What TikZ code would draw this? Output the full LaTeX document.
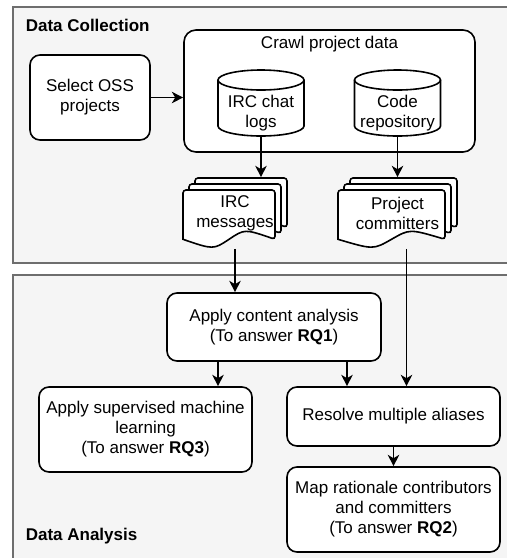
\documentclass[tikz,border=0pt]{standalone}
\usepackage{fontspec}
\setmainfont{Liberation Sans}
\usetikzlibrary{arrows.meta}
\definecolor{cpanel}{HTML}{F5F5F5}
\definecolor{cframe}{HTML}{6E6E6E}
\tikzset{
  every picture/.style={x=0.75pt, y=-0.75pt, font=\fontsize{12.75}{15}\selectfont, line width=1.2pt},
  panel/.style={draw=cframe, fill=cpanel, line width=1.3pt},
  panelname/.style={font=\fontsize{12.75}{15}\selectfont\bfseries, anchor=west, inner sep=0pt},
  box/.style={draw, fill=white, rounded corners=7.5pt, align=center, inner sep=2pt},
  page/.style={draw, fill=white},
  stack/.style={align=center, inner sep=0pt},
  arrow/.style={-{Stealth[length=8.5pt, width=8.5pt, inset=2.5pt]}, line width=1.2pt},
}
% stack of three pages: name, left, top, width, height, text (all in px)
\newcommand{\docstack}[6]{%
  \foreach \s in {12,6,0}{
    \draw[page] ({#2+\s},{#3+12-\s+0.85*(#5-12)})
      [rounded corners=2.25pt] -- ({#2+\s},{#3+12-\s}) -- ({#2+\s+#4-12},{#3+12-\s})
      -- ({#2+\s+#4-12},{#3+12-\s+0.85*(#5-12)}) [sharp corners]
      .. controls ({#2+\s+0.67*(#4-12)},{#3+12-\s+0.67*(#5-12)}) .. ({#2+\s+0.5*(#4-12)},{#3+12-\s+0.85*(#5-12)})
      .. controls ({#2+\s+0.33*(#4-12)},{#3+12-\s+1.03*(#5-12)}) .. ({#2+\s},{#3+12-\s+0.85*(#5-12)}) -- cycle;
  }
  \node[stack, minimum width={#4*0.75pt}, minimum height={#5*0.75pt}] (#1) at ({#2+#4/2},{#3+#5/2}) {#6};
}
% cylinder: name, centre x, top, width, height, text (all in px); the node is its body under the lid
\newcommand{\datastore}[6]{%
  \draw[page] ({#2-#4/2},{#3+10}) -- ({#2-#4/2},{#3+#5-10})
    arc[start angle=180, end angle=360, x radius={#4*0.375pt}, y radius=7.5pt]
    -- ({#2+#4/2},{#3+10})
    arc[start angle=0, end angle=180, x radius={#4*0.375pt}, y radius=7.5pt] -- cycle;
  \draw ({#2-#4/2},{#3+10}) arc[start angle=180, end angle=360, x radius={#4*0.375pt}, y radius=7.5pt];
  \node[stack, minimum width={#4*0.75pt}, minimum height={(#5-20)*0.75pt}] (#1) at (#2,{#3+20+(#5-20)/2}) {#6};
}

\begin{document}
\begin{tikzpicture}
  \useasboundingbox (0,0) rectangle (507,558);
  % the two phases
  \draw[panel] (13,7) rectangle (540,263);
  \draw[panel] (13,275) rectangle (540,590);
  \node[panelname] (collect) at (25,25) {Data Collection};
  \node[panelname] (analyse) at (25,536) {Data Analysis};

  % data collection
  \node[box, minimum width=90pt, minimum height=63.75pt] (select) at (90,97.5) {Select OSS\\projects};
  \node[box, rounded corners=9pt, minimum width=218.25pt, minimum height=91.5pt,
        label={[anchor=center, yshift=-11.25pt]north:Crawl project data}] (crawl) at (329.5,91) {};
  \datastore{irclogs}{261}{70}{86}{66}{IRC chat\\logs}
  \datastore{coderepo}{397.5}{70}{86}{66}{Code\\repository}
  \docstack{ircmsg}{183}{178}{104}{70}{IRC\\messages}
  \docstack{commit}{338}{178}{119}{70}{Project\\committers}

  % data analysis
  \node[box, minimum width=160.5pt, minimum height=51pt] (content) at (274,327) {Apply content analysis\\(To answer \textbf{RQ1})};
  \node[box, minimum width=159.75pt, minimum height=63.75pt] (learn) at (145.5,429.5) {Apply supervised machine\\learning\\(To answer \textbf{RQ3})};
  \node[box, minimum width=159.75pt, minimum height=44.25pt] (alias) at (393.5,416.5) {Resolve multiple aliases};
  \node[box, minimum width=159.75pt, minimum height=63.75pt] (mapping) at (393.5,509.5) {Map rationale contributors\\and committers\\(To answer \textbf{RQ2})};

  \draw[arrow] (select.east) -- (select.east -| crawl.west);
  \draw[arrow] (irclogs.south) -- (irclogs.south |- ircmsg.north);
  \draw[arrow] (coderepo.south) -- (coderepo.south |- commit.north);
  \draw[arrow] (ircmsg.south) -- (ircmsg.south |- content.north);
  \draw[arrow] ([xshift=6.75pt]commit.south) -- ([xshift=6.75pt]commit.south |- alias.north);
  \draw[arrow] ([xshift=-42pt]content.south) -- ([xshift=-42pt]content.south |- learn.north);
  \draw[arrow] ([xshift=54.75pt]content.south) -- ([xshift=54.75pt]content.south |- alias.north);
  \draw[arrow] (alias) -- (mapping);
\end{tikzpicture}
\end{document}
